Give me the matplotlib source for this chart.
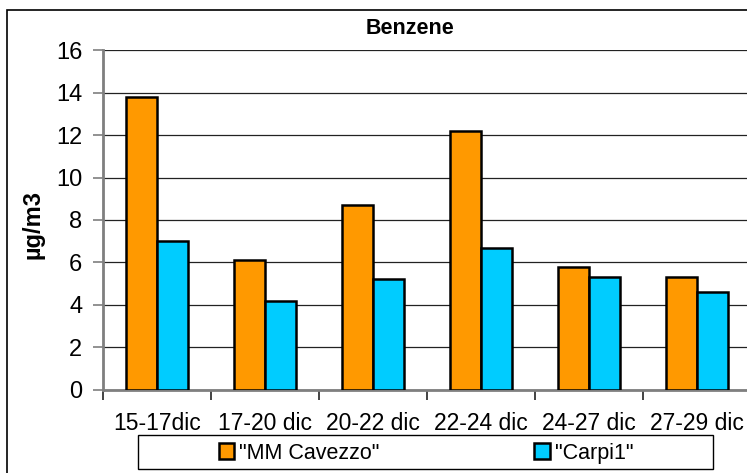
import numpy as np
import matplotlib
matplotlib.use("Agg")
import matplotlib.pyplot as plt
from matplotlib.patches import Rectangle, Patch

plt.rcParams['font.family'] = ['Liberation Sans', 'DejaVu Sans']

periods = ['15-17dic', '17-20 dic', '20-22 dic', '22-24 dic', '24-27 dic', '27-29 dic']
cavezzo = [13.8, 6.1, 8.7, 12.2, 5.8, 5.3]
carpi = [7.0, 4.2, 5.2, 6.7, 5.3, 4.6]
series_names = ['"MM Cavezzo"', '"Carpi1"']
series_colors = ['#FF9900', '#00CCFF']
y_ticks = [0, 2, 4, 6, 8, 10, 12, 14, 16]

W, H = 747, 473
fig = plt.figure(figsize=(W / 100, H / 100), dpi=100)


def fx(px):
    return px / W


def fy(py):
    return 1 - py / H


# outer chart frame (cropped at right and bottom)
fig.patches.append(Rectangle((fx(7), fy(480)), fx(760) - fx(7), fy(10) - fy(480),
                             transform=fig.transFigure, fill=False,
                             edgecolor='black', lw=1.2, zorder=0))

ax = fig.add_axes([fx(103), fy(389.5), fx(751) - fx(103), fy(50.5) - fy(389.5)])

x = np.arange(len(periods))
bw = 0.29
ax.bar(x - bw / 2, cavezzo, bw, color=series_colors[0], edgecolor='black', lw=1.8, zorder=3)
ax.bar(x + bw / 2, carpi, bw, color=series_colors[1], edgecolor='black', lw=1.8, zorder=3)

ax.set_xlim(-0.5, len(periods) - 0.5)
ax.set_ylim(0, 16)
ax.set_yticks(y_ticks)
ax.tick_params(axis='y', labelsize=17, length=7, width=1.2, color='#7f7f7f', pad=8)
ax.yaxis.grid(True, color='#222222', lw=0.9, zorder=0)
ax.set_axisbelow(True)

ax.set_xticks(x)
ax.set_xticklabels(periods)
ax.set_xticks(np.arange(len(periods) + 1) - 0.5, minor=True)
ax.tick_params(axis='x', which='major', length=0, labelsize=16.5, pad=16)
ax.tick_params(axis='x', which='minor', length=7, width=1.2, color='#222222', direction='out')

for side in ['top', 'right']:
    ax.spines[side].set_visible(False)
for side in ['left', 'bottom']:
    ax.spines[side].set_color('#7f7f7f')
    ax.spines[side].set_linewidth(2)

fig.text(fx(33), fy(224), 'µg/m3', fontsize=17, fontweight='bold', rotation=90,
         ha='center', va='center')

fig.text(fx(410), fy(29), 'Benzene', fontsize=15.5, fontweight='bold', ha='center', va='center')

# legend box
fig.patches.append(Rectangle((fx(138), fy(469)), fx(713) - fx(138), fy(435) - fy(469),
                             transform=fig.transFigure, fill=False,
                             edgecolor='black', lw=1.0, zorder=1))
handles = [Patch(facecolor=c, edgecolor='black', lw=1.8) for c in series_colors]
fig.legend(handles, series_names, loc='center', bbox_to_anchor=(fx(426), fy(453)),
           ncol=2, frameon=False, fontsize=15.5, handlelength=0.7, handleheight=0.7,
           handletextpad=0.25, columnspacing=7.2, borderaxespad=0)

fig.savefig('out.png', dpi=100)
